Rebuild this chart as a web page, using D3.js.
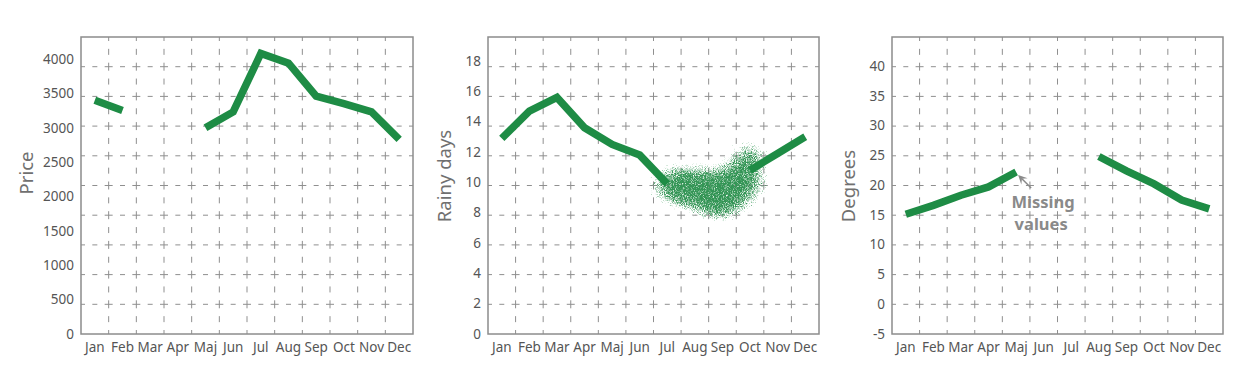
<!DOCTYPE html>
<html lang="en">
<head>
    <meta charset="UTF-8">
    <title>Missing and uncertain values</title>
    <script src="https://cdn.jsdelivr.net/npm/d3@7/dist/d3.min.js"></script>
    <style>
        body { margin: 0; background: #fff; }
    </style>
</head>
<body>
    <script>

        //categories and values
        var months = ['Jan', 'Feb', 'Mar', 'Apr', 'Maj', 'Jun', 'Jul', 'Aug', 'Sep', 'Oct', 'Nov', 'Dec'];

        var priceTicks = [0, 500, 1000, 1500, 2000, 2500, 3000, 3500, 4000];
        var priceValues = [3400, 3250, null, null, 3000, 3230, 4080, 3940, 3460, 3350, 3230, 2830];

        var rainTicks = [0, 2, 4, 6, 8, 10, 12, 14, 16, 18];
        var rainValues = [12.9, 14.7, 15.6, 13.6, 12.5, 11.8, 9.9, null, null, 10.8, 11.9, 13.0];

        //uncertain stretch of the rain series, drawn as a cloud
        var cloudMonths = ['Jul', 'Aug', 'Sep', 'Oct'];
        var cloudMean = [9.8, 9.6, 9.1, 10.8];
        var cloudSpread = [0.2, 0.5, 0.65, 0.9];

        var degreeTicks = [-5, 0, 5, 10, 15, 20, 25, 30, 35, 40];
        var degreeValues = [15.1, 16.6, 18.3, 19.7, 22.2, null, null, 24.8, 22.4, 20.2, 17.5, 16.0];

        var noteLines = ['Missing', 'values'];

        //page and panel layout
        var w = 1254;
        var h = 372;
        var plotTop = 37;
        var plotBottom = 334;
        var green = '#1e8c45';
        var fontFamily = '"Noto Sans", "Open Sans", sans-serif';

        var panels = [
            { left: 81, right: 413, title: 'Price', titleX: 33, titleY: 173,
              ticks: priceTicks, values: priceValues, domain: [0, 4000], topValueY: 59 },
            { left: 488, right: 819, title: 'Rainy days', titleX: 451, titleY: 176,
              ticks: rainTicks, values: rainValues, domain: [0, 18], topValueY: 61 },
            { left: 892, right: 1223, title: 'Degrees', titleX: 855, titleY: 186,
              ticks: degreeTicks, values: degreeValues, domain: [-5, 40], topValueY: 66 }
        ];

        //create svg
        var svg = d3.select('body')
                    .append('svg')
                    .attr('width', w)
                    .attr('height', h);

        //speckle filter for the uncertainty cloud
        var defs = svg.append('defs');
        var filter = defs.append('filter')
            .attr('id', 'speckle')
            .attr('x', '-60%').attr('y', '-100%')
            .attr('width', '220%').attr('height', '300%')
            .attr('color-interpolation-filters', 'sRGB');
        filter.append('feGaussianBlur')
            .attr('in', 'SourceAlpha').attr('stdDeviation', '12 8').attr('result', 'soft');
        filter.append('feTurbulence')
            .attr('type', 'fractalNoise').attr('baseFrequency', 1.1)
            .attr('numOctaves', 2).attr('seed', 4).attr('result', 'noise');
        filter.append('feColorMatrix')
            .attr('in', 'noise').attr('type', 'matrix')
            .attr('values', '0 0 0 0 0  0 0 0 0 0  0 0 0 0 0  1 0 0 0 0')
            .attr('result', 'grain');
        filter.append('feComposite')
            .attr('in', 'soft').attr('in2', 'grain').attr('operator', 'arithmetic')
            .attr('k1', 0).attr('k2', 2.6).attr('k3', 2.6).attr('k4', -2.9)
            .attr('result', 'mask');
        filter.append('feFlood').attr('flood-color', '#339555').attr('result', 'ink');
        filter.append('feComposite').attr('in', 'ink').attr('in2', 'mask').attr('operator', 'in');

        panels.forEach(function(p, pi) {
            var g = svg.append('g');

            var x = d3.scaleBand()
                .domain(months)
                .range([p.left, p.right]);

            var y = d3.scaleLinear()
                .domain(p.domain)
                .range([plotBottom, p.topValueY]);

            var cw = x.step();
            var rh = (plotBottom - plotTop) / 10;

            //dashed grid, a solid cross where the lines meet
            var gh = (cw - 8 - 5) / 2;
            var gv = (rh - 8 - 6) / 2;
            g.selectAll('line.hgrid')
                .data(d3.range(1, 10))
                .enter()
                .append('line')
                .attr('class', 'hgrid')
                .attr('x1', p.left)
                .attr('x2', p.right)
                .attr('y1', function(d) { return plotTop + d * rh; })
                .attr('y2', function(d) { return plotTop + d * rh; })
                .attr('stroke', '#8f8f8f')
                .attr('stroke-width', 1)
                .attr('stroke-dasharray', [8, gh, 5, gh].join(','))
                .attr('stroke-dashoffset', 4);

            g.selectAll('line.vgrid')
                .data(d3.range(1, 12))
                .enter()
                .append('line')
                .attr('class', 'vgrid')
                .attr('x1', function(d) { return p.left + d * cw; })
                .attr('x2', function(d) { return p.left + d * cw; })
                .attr('y1', plotTop)
                .attr('y2', plotBottom)
                .attr('stroke', '#8f8f8f')
                .attr('stroke-width', 1)
                .attr('stroke-dasharray', [8, gv, 6, gv].join(','))
                .attr('stroke-dashoffset', 4);

            //frame
            g.append('rect')
                .attr('x', p.left)
                .attr('y', plotTop)
                .attr('width', p.right - p.left)
                .attr('height', plotBottom - plotTop)
                .attr('fill', 'none')
                .attr('stroke', '#8c8c8c')
                .attr('stroke-width', 1.5);

            //axes
            var yAxis = g.append('g')
                .attr('transform', 'translate(' + p.left + ',0)')
                .call(d3.axisLeft(y).tickValues(p.ticks).tickSize(0).tickPadding(7)
                    .tickFormat(function(d) { return String(d); }));
            yAxis.select('.domain').remove();

            var xAxis = g.append('g')
                .attr('transform', 'translate(0,' + plotBottom + ')')
                .call(d3.axisBottom(x).tickSize(0).tickPadding(8));
            xAxis.select('.domain').remove();

            yAxis.selectAll('.tick text')
                .attr('font-family', fontFamily)
                .attr('font-size', '13.5px')
                .attr('fill', '#555');
            xAxis.selectAll('.tick text')
                .attr('font-family', fontFamily)
                .attr('font-size', '13.5px')
                .attr('fill', '#555');

            //axis title
            g.append('text')
                .text(p.title)
                .attr('transform', 'translate(' + p.titleX + ',' + p.titleY + ') rotate(-90)')
                .attr('text-anchor', 'middle')
                .attr('font-family', fontFamily)
                .attr('font-size', '18.5px')
                .attr('fill', '#707070');

            //uncertainty cloud on the rain panel
            if (pi === 1) {
                var cloud = d3.area()
                    .x(function(d, i) { return x(cloudMonths[i]) + x.bandwidth() / 2; })
                    .y0(function(d, i) { return y(cloudMean[i] - cloudSpread[i]); })
                    .y1(function(d, i) { return y(cloudMean[i] + cloudSpread[i]); })
                    .curve(d3.curveCatmullRom);
                g.append('path')
                    .datum(cloudMean)
                    .attr('d', cloud)
                    .attr('fill', '#339555')
                    .attr('stroke', '#339555')
                    .attr('stroke-width', 34)
                    .attr('stroke-linejoin', 'round')
                    .attr('filter', 'url(#speckle)');
            }

            //the series, with gaps where values are missing
            var line = d3.line()
                .defined(function(d) { return d !== null; })
                .x(function(d, i) { return x(months[i]) + x.bandwidth() / 2; })
                .y(function(d) { return y(d); });

            g.append('path')
                .datum(p.values)
                .attr('d', line)
                .attr('fill', 'none')
                .attr('stroke', green)
                .attr('stroke-width', 7.5)
                .attr('stroke-linejoin', 'miter');

            //note on the degrees panel, pointing at the last value before the gap
            if (pi === 2) {
                var tipX = x('Maj') + x.bandwidth() / 2 + 2;
                var tipY = y(degreeValues[4]) + 3;
                var tailX = tipX + 13;
                var tailY = tipY + 13;
                var ang = Math.atan2(tipY - tailY, tipX - tailX);
                var ah = 9, aw = 4.5;
                var bx = tipX - ah * Math.cos(ang), by = tipY - ah * Math.sin(ang);
                var nx = tipX - ah * 0.6 * Math.cos(ang), ny = tipY - ah * 0.6 * Math.sin(ang);
                g.append('line')
                    .attr('x1', tailX).attr('y1', tailY)
                    .attr('x2', nx).attr('y2', ny)
                    .attr('stroke', '#8a8a8a')
                    .attr('stroke-width', 1.5);
                g.append('path')
                    .attr('d', 'M' + tipX + ',' + tipY +
                        'L' + (bx - aw * Math.sin(ang)) + ',' + (by + aw * Math.cos(ang)) +
                        'L' + nx + ',' + ny +
                        'L' + (bx + aw * Math.sin(ang)) + ',' + (by - aw * Math.cos(ang)) + 'Z')
                    .attr('fill', '#8a8a8a');

                g.selectAll('text.note')
                    .data(noteLines)
                    .enter()
                    .append('text')
                    .attr('class', 'note')
                    .text(function(d) { return d; })
                    .attr('x', function(d, i) { return tailX + 12 - i * 2; })
                    .attr('y', function(d, i) { return tailY + 20 + i * 22; })
                    .attr('text-anchor', 'middle')
                    .attr('font-family', fontFamily)
                    .attr('font-weight', 'bold')
                    .attr('font-size', '16.5px')
                    .attr('fill', '#8a8a8a');
            }
        });

    </script>
</body>
</html>
